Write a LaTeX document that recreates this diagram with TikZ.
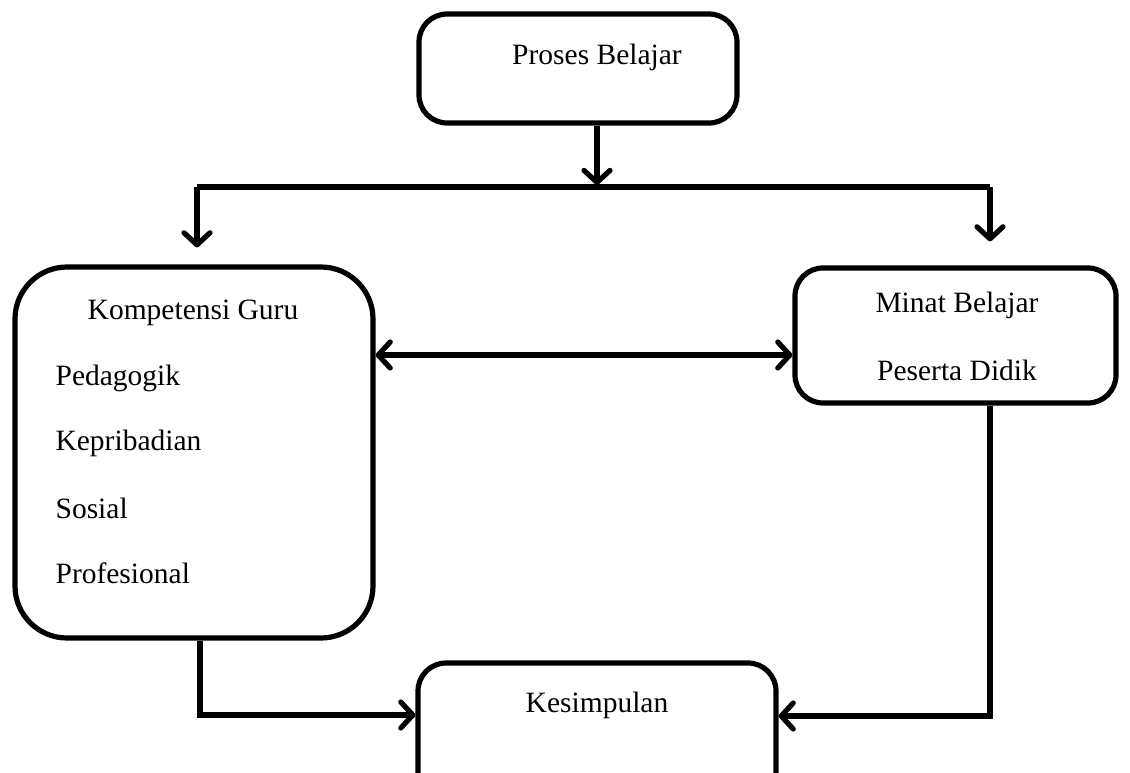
\documentclass[tikz,border=0pt]{standalone}
\usepackage{fontspec}
\setmainfont{Liberation Serif}
\usetikzlibrary{arrows.meta}
\begin{document}
\begin{tikzpicture}[x=1pt,y=-1pt,line width=5.2pt,
  box/.style={draw,line width=5.2pt,inner sep=0pt},
  lbl/.style={font=\fontsize{29.5}{34}\selectfont,inner sep=0pt},
  arr/.style={-{Straight Barb[length=12pt,width=26pt,round]}},
  darr/.style={{Straight Barb[length=12pt,width=26pt,round]}-{Straight Barb[length=12pt,width=26pt,round]}}]
\clip (0,0) rectangle (1130,773);
\useasboundingbox (0,0) rectangle (1130,773);
% boxes
\node[box,rounded corners=28pt,minimum width=318pt,minimum height=109pt] (pb) at (578,68.5) {};
\node[box,rounded corners=52pt,minimum width=358pt,minimum height=371pt] (kg) at (194,452.5) {};
\node[box,rounded corners=28pt,minimum width=321pt,minimum height=135pt] (mb) at (955.5,335.5) {};
\node[box,rounded corners=28pt,minimum width=358pt,minimum height=137pt] (ks) at (597,731.5) {};
% texts
\node[lbl] (tpb) at (597,57) {Proses Belajar};
\node[lbl] (tkg) at (193,313) {Kompetensi Guru};
\node[lbl,anchor=west] (t1) at (53,378) {Pedagogik};
\node[lbl,anchor=west] (t2) at (53,443) {Kepribadian};
\node[lbl,anchor=west] (t3) at (53,508) {Sosial};
\node[lbl,anchor=west] (t4) at (53,573) {Profesional};
\node[lbl] (tmb1) at (957,305) {Minat Belajar};
\node[lbl] (tmb2) at (957,370) {Peserta Didik};
\node[lbl] (tks) at (597,705) {Kesimpulan};
% coordinates
\coordinate (split) at (597,187);
\coordinate (hl) at (197,187);
\coordinate (hr) at (990,187);
\coordinate (mid) at (584,355);
\coordinate (lb) at (200,715);
\coordinate (rb) at (990,716);
% connectors
\draw[arr,shorten >=2pt] (pb.south -| split) -- (split);
\draw (hl) -- (hr);
\draw[arr,shorten >=17pt] (hl) -- (hl |- kg.north);
\draw[arr,shorten >=24pt] (hr) -- (hr |- mb.north);
\draw[darr] (kg.east |- mid) -- (mb.west |- mid);
\draw[arr] (kg.south -| lb) -- (lb) -- (ks.west |- lb);
\draw[arr] (mb.south -| rb) -- (rb) -- (ks.east |- rb);
\end{tikzpicture}
\end{document}
